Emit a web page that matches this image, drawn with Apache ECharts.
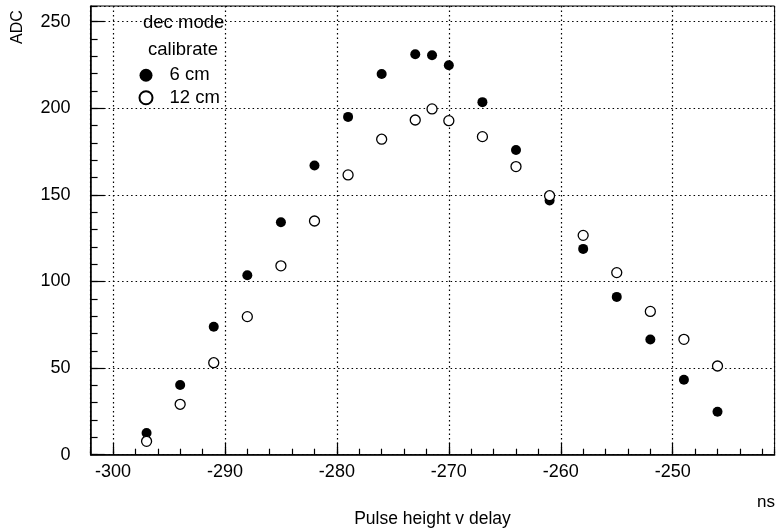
<!DOCTYPE html>
<html>
<head>
<meta charset="utf-8">
<script src="https://cdn.jsdelivr.net/npm/echarts@6/dist/echarts.min.js"></script>
<style>html,body{margin:0;padding:0;background:#fff}#c{width:776px;height:531px}</style>
</head>
<body>
<div id="c"></div>
<script>
var delays = [-297, -294, -291, -288, -285, -282, -279, -276, -273, -271.5, -270, -267, -264, -261, -258, -255, -252, -249, -246];
var adc6cm = [12.5, 40.2, 73.9, 103.6, 134.2, 166.9, 195.0, 219.8, 231.2, 230.6, 224.8, 203.5, 175.9, 146.7, 118.8, 91.1, 66.5, 43.3, 24.8];
var adc12cm = [7.7, 29.1, 53.1, 79.7, 109.0, 134.9, 161.5, 182.1, 193.2, 199.6, 192.8, 183.6, 166.3, 149.5, 126.6, 105.1, 82.7, 66.6, 51.2];
var seriesNames = ['6 cm', '12 cm'];
var legendHeader = ['dec mode', 'calibrate'];
var xTitle = 'ns';
var yTitle = 'ADC';
var chartTitle = 'Pulse height v delay';

var FONT = '"Liberation Sans", Arial, Helvetica, sans-serif';
function pairs(xs, ys) { return xs.map(function (x, i) { return [x, ys[i]]; }); }

var chart = echarts.init(document.getElementById('c'), null, {renderer: 'canvas'});
var xMin = -302, xMax = -240.9, yMin = 0, yMax = 259;
var option = {
  backgroundColor: '#fff',
  animation: false,
  grid: {left: 90.6, right: 1.4, top: 6, bottom: 76.3, show: true, borderColor: '#000', borderWidth: 1, backgroundColor: 'transparent'},
  xAxis: [
    {type: 'value', min: xMin, max: xMax, splitNumber: 6, position: 'bottom',
     axisLine: {show: true, onZero: false, lineStyle: {color: '#000', width: 1.5}},
     axisTick: {show: true, inside: true, length: 12, lineStyle: {color: '#000', width: 1.2}},
     axisLabel: {show: true, margin: 8, color: '#000', fontSize: 18, fontFamily: FONT, showMinLabel: false, showMaxLabel: false},
     splitLine: {show: true, lineStyle: {color: '#000', type: [1.5, 3], width: 1.2}}},
    {type: 'value', min: xMin, max: xMax, interval: 2, position: 'bottom',
     axisLine: {show: false}, axisTick: {show: true, inside: true, length: 6, lineStyle: {color: '#000', width: 1.2}},
     axisLabel: {show: false}, splitLine: {show: false}}
  ],
  yAxis: [
    {type: 'value', min: yMin, max: yMax, interval: 50, position: 'left',
     axisLine: {show: true, onZero: false, lineStyle: {color: '#000', width: 1.5}},
     axisTick: {show: true, inside: true, length: 14, lineStyle: {color: '#000', width: 1.2}},
     axisLabel: {show: true, margin: 20, color: '#000', fontSize: 18, fontFamily: FONT, showMaxLabel: false},
     splitLine: {show: true, lineStyle: {color: '#000', type: [1.5, 3], width: 1.2}}},
    {type: 'value', min: yMin, max: yMax, interval: 10, position: 'left',
     axisLine: {show: false}, axisTick: {show: true, inside: true, length: 7, lineStyle: {color: '#000', width: 1.2}},
     axisLabel: {show: false}, splitLine: {show: false}}
  ],
  legend: {
    show: true, orient: 'vertical', left: 138.5, top: 65.75, itemWidth: 13, itemHeight: 13, itemGap: 3.5,
    icon: 'circle', padding: 0,
    textStyle: {color: '#000', fontSize: 18.5, fontFamily: FONT, lineHeight: 18.5, padding: [0, 0, 0, 12]},
    data: seriesNames
  },
  graphic: [
    {type: 'text', x: 143, y: 23, style: {text: legendHeader[0], font: '18.5px ' + FONT, fill: '#000', verticalAlign: 'middle'}},
    {type: 'text', x: 148, y: 50, style: {text: legendHeader[1], font: '18.5px ' + FONT, fill: '#000', verticalAlign: 'middle'}},
    {type: 'text', x: 18, y: 27, rotation: Math.PI / 2, style: {text: yTitle, font: '16px ' + FONT, fill: '#000', align: 'center', verticalAlign: 'middle'}},
    {type: 'text', x: 766, y: 502, style: {text: xTitle, font: '17px ' + FONT, fill: '#000', align: 'center', verticalAlign: 'middle'}},
    {type: 'text', x: 432.5, y: 519, style: {text: chartTitle, font: '17.5px ' + FONT, fill: '#000', align: 'center', verticalAlign: 'middle'}}
  ],
  series: [
    {name: seriesNames[0], type: 'scatter', xAxisIndex: 0, yAxisIndex: 0, symbol: 'circle', symbolSize: 10,
     itemStyle: {color: '#000', borderColor: '#000', borderWidth: 0, opacity: 1},
     data: pairs(delays, adc6cm)},
    {name: seriesNames[1], type: 'scatter', xAxisIndex: 0, yAxisIndex: 0, symbol: 'circle', symbolSize: 10,
     itemStyle: {color: '#fff', borderColor: '#000', borderWidth: 1.3, opacity: 1},
     data: pairs(delays, adc12cm)}
  ]
};
chart.setOption(option);
</script>
</body>
</html>
